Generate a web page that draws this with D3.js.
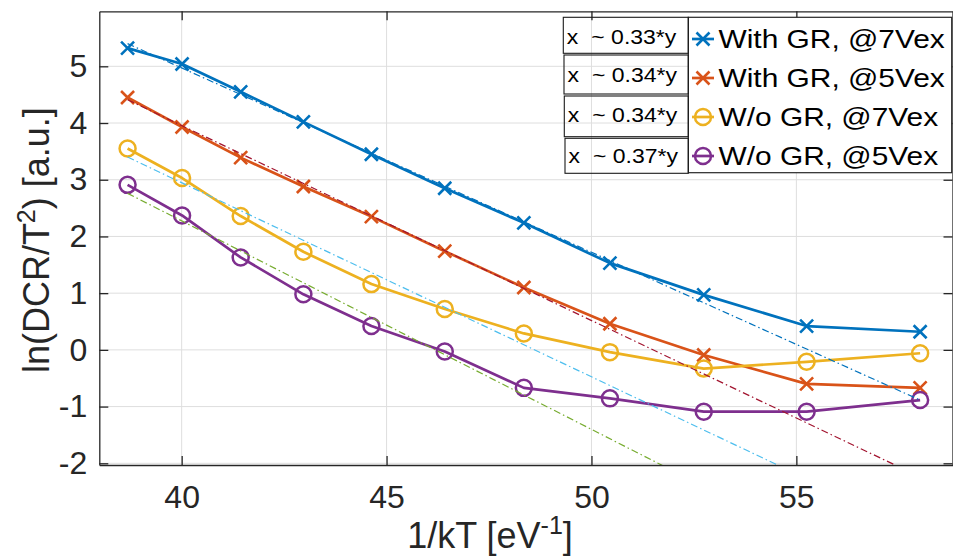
<!DOCTYPE html>
<html>
<head>
<meta charset="utf-8">
<script src="https://cdn.jsdelivr.net/npm/d3@7"></script>
<style>
  html, body { margin: 0; padding: 0; background: #fff; overflow: hidden; }
  svg { display: block; }
  text { font-family: "Liberation Sans", Arial, Helvetica, sans-serif; fill: #262626; }
</style>
</head>
<body>
<svg id="chart" width="953" height="558"></svg>
<script>
// 1/kT [eV^-1] for T = 300 K down to 200 K in 10 K steps
const invKT = [38.68, 40.01, 41.44, 42.97, 44.63, 46.42, 48.35, 50.45, 52.74, 55.25, 58.02];

// ln(DCR/T^2) [a.u.]
const withGR7 = [5.32, 5.04, 4.55, 4.02, 3.45, 2.85, 2.24, 1.53, 0.97, 0.42, 0.32];
const withGR5 = [4.45, 3.93, 3.39, 2.88, 2.35, 1.74, 1.10, 0.46, -0.09, -0.60, -0.67];
const woGR7   = [3.55, 3.03, 2.36, 1.73, 1.16, 0.72, 0.29, -0.04, -0.33, -0.21, -0.06];
const woGR5   = [2.91, 2.37, 1.63, 0.98, 0.42, -0.03, -0.67, -0.855, -1.09, -1.09, -0.885];

const seriesNames   = ["With GR, @7Vex", "With GR, @5Vex", "W/o GR, @7Vex", "W/o GR, @5Vex"];
const seriesColors  = ["#0072BD", "#D95319", "#EDB120", "#7E2F8E"];
const seriesMarkers = ["x", "x", "o", "o"];

// linear fits: value at the first and at the last 1/kT
const fitStart  = [5.40, 4.41, 3.40, 2.76];
const fitEnd    = [-0.885, -2.24, -3.22, -4.35];
const fitColors = ["#0072BD", "#A2142F", "#4DBEEE", "#77AC30"];
const fitSlopeLabels = ["0.33", "0.34", "0.34", "0.37"];

const xTicks = [40, 45, 50, 55];
const yTicks = [-2, -1, 0, 1, 2, 3, 4, 5];

const series = [withGR7, withGR5, woGR7, woGR5];

// ---- layout ----
const plot = { left: 99.3, right: 952.5, top: 11.3, bottom: 465 };
const axisColor = "#262626";
const gridColor = "#dedede";
const tickLen = 9;
const plainNum = d => String(d);   // hyphen-minus, as in the original axes

const svg = d3.select("#chart");

const x = d3.scaleLinear().domain([37.99, 58.81]).range([plot.left, plot.right]);
const y = d3.scaleLinear().domain([-2.03, 5.97]).range([plot.bottom, plot.top]);

svg.append("defs").append("clipPath").attr("id", "plotClip")
  .append("rect")
  .attr("x", plot.left).attr("y", plot.top)
  .attr("width", plot.right - plot.left).attr("height", plot.bottom - plot.top);

// grid
const grid = svg.append("g");
grid.selectAll("line.vx").data(xTicks).join("line")
  .attr("x1", d => x(d)).attr("x2", d => x(d))
  .attr("y1", plot.top).attr("y2", plot.bottom)
  .attr("stroke", gridColor).attr("stroke-width", 1);
grid.selectAll("line.hy").data(yTicks).join("line")
  .attr("y1", d => y(d)).attr("y2", d => y(d))
  .attr("x1", plot.left).attr("x2", plot.right)
  .attr("stroke", gridColor).attr("stroke-width", 1);

// data series
const line = d3.line().x(d => x(d[0])).y(d => y(d[1]));
const dataG = svg.append("g").attr("clip-path", "url(#plotClip)");
const crossPath = "M-6.5,-6.5L6.5,6.5M-6.5,6.5L6.5,-6.5";

series.forEach((vals, i) => {
  const pts = invKT.map((k, j) => [k, vals[j]]);
  dataG.append("path")
    .attr("d", line(pts))
    .attr("fill", "none")
    .attr("stroke", seriesColors[i])
    .attr("stroke-width", 2.7)
    .attr("stroke-linejoin", "round");
  const m = dataG.append("g");
  if (seriesMarkers[i] === "x") {
    m.selectAll("path").data(pts).join("path")
      .attr("transform", d => `translate(${x(d[0])},${y(d[1])})`)
      .attr("d", crossPath)
      .attr("fill", "none")
      .attr("stroke", seriesColors[i])
      .attr("stroke-width", 2.6);
  } else {
    m.selectAll("circle").data(pts).join("circle")
      .attr("cx", d => x(d[0])).attr("cy", d => y(d[1]))
      .attr("r", 8)
      .attr("fill", "none")
      .attr("stroke", seriesColors[i])
      .attr("stroke-width", 2.5);
  }
});

// fitted lines (dash-dot)
fitStart.forEach((s, i) => {
  const pts = [[invKT[0], s], [invKT[invKT.length - 1], fitEnd[i]]];
  dataG.append("path")
    .attr("d", line(pts))
    .attr("fill", "none")
    .attr("stroke", fitColors[i])
    .attr("stroke-width", 1.2)
    .attr("stroke-dasharray", "7,3,1.5,3");
});

// axes (ticks point inward on all four sides)
function styleAxis(g) {
  g.attr("font-family", null).attr("font-size", null);
  g.selectAll(".domain").attr("stroke", axisColor).attr("stroke-width", 1.3);
  g.selectAll(".tick line").attr("stroke", axisColor).attr("stroke-width", 1.3);
  g.selectAll(".tick text").attr("fill", axisColor).style("font-size", "32px");
}

svg.append("g")
  .attr("transform", `translate(0,${plot.bottom})`)
  .call(d3.axisBottom(x).tickValues(xTicks).tickFormat(plainNum)
        .tickSizeInner(-tickLen).tickSizeOuter(0).tickPadding(20.5))
  .call(styleAxis);

svg.append("g")
  .attr("transform", `translate(${plot.left},0)`)
  .call(d3.axisLeft(y).tickValues(yTicks).tickFormat(plainNum)
        .tickSizeInner(-tickLen).tickSizeOuter(0).tickPadding(12))
  .call(styleAxis);

svg.append("g")
  .attr("transform", `translate(0,${plot.top})`)
  .call(d3.axisTop(x).tickValues(xTicks).tickFormat("")
        .tickSizeInner(-tickLen).tickSizeOuter(0))
  .call(styleAxis);

svg.append("g")
  .attr("transform", `translate(${plot.right},0)`)
  .call(d3.axisRight(y).tickValues(yTicks).tickFormat("")
        .tickSizeInner(-tickLen).tickSizeOuter(0))
  .call(styleAxis);

// axis titles
const yTitle = svg.append("text")
  .attr("transform", `translate(49,${(plot.top + plot.bottom) / 2 + 2}) rotate(-90)`)
  .attr("text-anchor", "middle")
  .style("font-size", "36px");
yTitle.append("tspan").text("ln(DCR/T");
yTitle.append("tspan").text("2").style("font-size", "25px").attr("dy", -14);
yTitle.append("tspan").text(") [a.u.]").attr("dy", 14);

const xTitle = svg.append("text")
  .attr("x", 490).attr("y", 548)
  .attr("text-anchor", "middle")
  .style("font-size", "36px");
xTitle.append("tspan").text("1/kT [eV");
xTitle.append("tspan").text("-1").style("font-size", "25px").attr("dy", -14);
xTitle.append("tspan").text("]").attr("dy", 14);

// legend
const legend = { left: 688.3, top: 17.3, right: 951.7, bottom: 172.7 };
const legendRows = [39, 78, 117, 156];
const textStretch = 1.15;

const lg = svg.append("g");
lg.append("rect")
  .attr("x", legend.left).attr("y", legend.top)
  .attr("width", legend.right - legend.left).attr("height", legend.bottom - legend.top)
  .attr("fill", "#fff").attr("stroke", axisColor).attr("stroke-width", 1.2);

seriesNames.forEach((name, i) => {
  const cy = legendRows[i];
  const row = lg.append("g");
  row.append("line")
    .attr("x1", 692).attr("x2", 714).attr("y1", cy).attr("y2", cy)
    .attr("stroke", seriesColors[i]).attr("stroke-width", 2.7);
  if (seriesMarkers[i] === "x") {
    row.append("path").attr("transform", `translate(703,${cy})`)
      .attr("d", crossPath).attr("fill", "none")
      .attr("stroke", seriesColors[i]).attr("stroke-width", 2.6);
  } else {
    row.append("circle").attr("cx", 703).attr("cy", cy).attr("r", 8)
      .attr("fill", "none").attr("stroke", seriesColors[i]).attr("stroke-width", 2.5);
  }
  row.append("text")
    .attr("transform", `translate(718.5,${cy + 9.3}) scale(${textStretch},1)`)
    .style("font-size", "26px")
    .style("fill", "#000")
    .text(name);
});

// fit-slope note boxes (transparent, left of the legend)
const noteBoxes = [
  { left: 563.3, top: 17.3, bottom: 53.3, base: 44.3 },
  { left: 564.0, top: 55.0, bottom: 94.0, base: 81.7 },
  { left: 564.3, top: 96.0, bottom: 136.7, base: 121.7 },
  { left: 565.0, top: 138.3, bottom: 173.3, base: 163.3 }
];
const notes = svg.append("g");
fitSlopeLabels.forEach((s, i) => {
  const b = noteBoxes[i];
  notes.append("rect")
    .attr("x", b.left).attr("y", b.top)
    .attr("width", legend.left - b.left).attr("height", b.bottom - b.top)
    .attr("fill", "none").attr("stroke", "#1a1a1a").attr("stroke-width", 1.1);
  notes.append("text")
    .attr("transform", `translate(${b.left + 3.5},${b.base}) scale(${textStretch},1)`)
    .style("font-size", "20px").style("fill", "#000")
    .text("x");
  notes.append("text")
    .attr("transform", `translate(${b.left + 28},${b.base}) scale(${textStretch},1)`)
    .style("font-size", "20px").style("fill", "#000")
    .text(`~ ${s}*y`);
});
</script>
</body>
</html>
